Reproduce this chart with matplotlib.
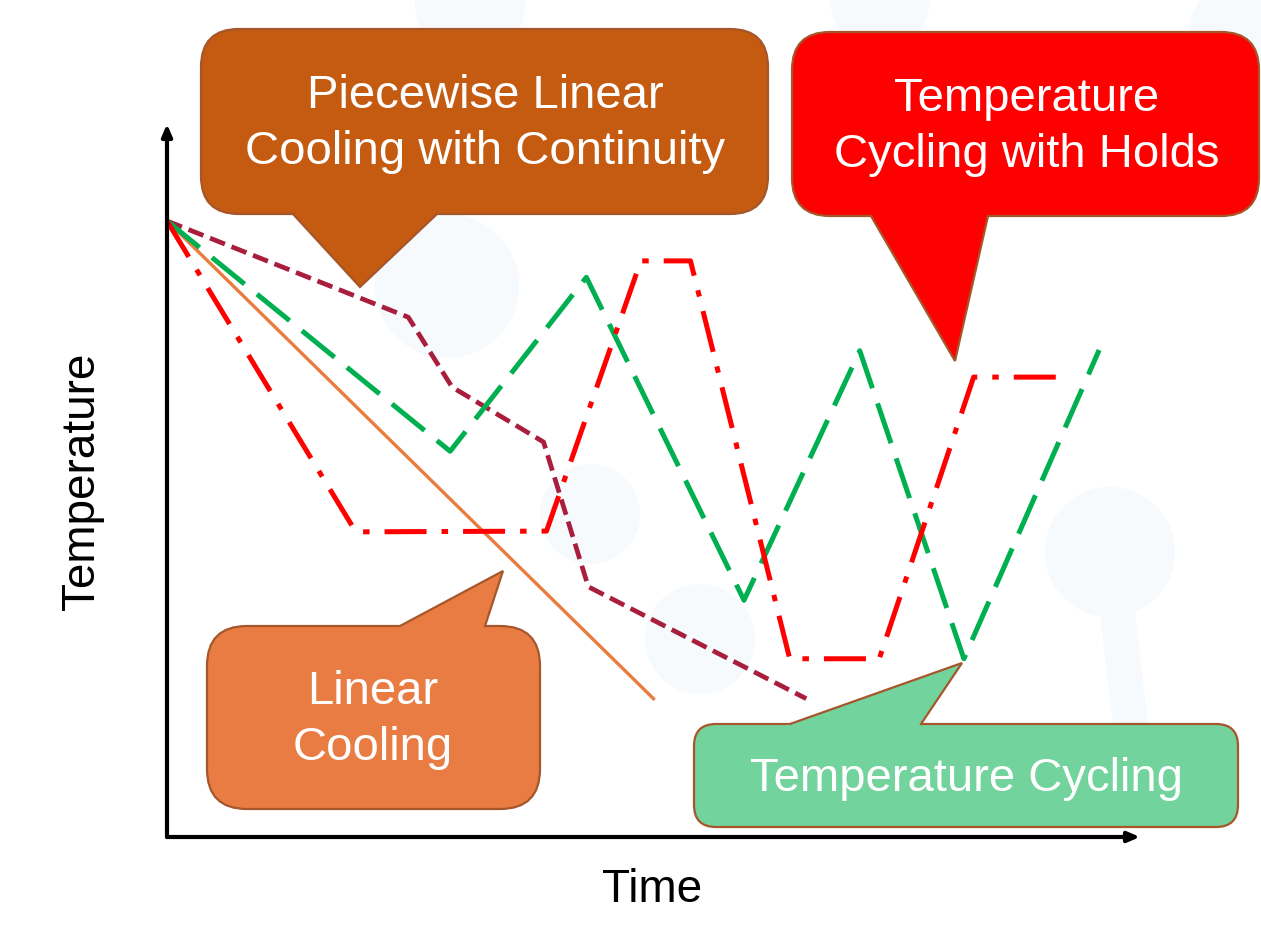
import matplotlib.pyplot as plt
import numpy as np
from matplotlib.patches import FancyBboxPatch, Polygon, Circle

plt.rcParams['font.family'] = ['Liberation Sans', 'DejaVu Sans']

# profile data (time 0..10, temperature 0..100)
linear_t = [0.0, 5.0]
linear_T = [86.4, 19.4]

piecewise_t = [0.0, 2.48, 2.93, 3.87, 4.33, 6.57]
piecewise_T = [86.4, 72.9, 63.1, 55.4, 35.1, 19.4]

cycling_t = [0.0, 2.91, 4.31, 5.93, 7.12, 8.19, 9.58]
cycling_T = [86.4, 54.1, 78.5, 33.2, 68.2, 25.0, 68.3]

holds_t = [0.0, 1.94, 3.90, 4.87, 5.38, 6.40, 7.32, 8.29, 9.16]
holds_T = [86.4, 42.8, 42.9, 80.8, 80.8, 25.0, 25.0, 64.5, 64.5]

W, H = 1261, 928
fig = plt.figure(figsize=(W / 100, H / 100), dpi=100)

# faint watermark layer (pixel coords)
wm = fig.add_axes([0, 0, 1, 1])
wm.set_xlim(0, W)
wm.set_ylim(H, 0)
wm.axis('off')
wm_col = '#F6FAFD'
for cx, cy, r in [(447, 287, 72), (590, 515, 50), (700, 640, 55),
                  (1110, 553, 65), (470, 5, 55), (880, 0, 50), (1235, 30, 45)]:
    wm.add_patch(Circle((cx, cy), r, color=wm_col, lw=0))
wm.plot([1110, 1130], [553, 720], color=wm_col, lw=25, solid_capstyle='round')

# main axes with arrows
x0, y0, x1, y1 = 167, 838, 1140, 125
ax = fig.add_axes([x0 / W, (H - y0) / H, (x1 - x0) / W, (y0 - y1) / H])
ax.set_xlim(0, 10)
ax.set_ylim(0, 100)
ax.axis('off')
ax.patch.set_alpha(0)

ax.plot(linear_t, linear_T, color='#E97C3F', lw=2.4, clip_on=False)
ax.plot(piecewise_t, piecewise_T, color='#A81E3C', lw=3.4,
        dashes=(3.4, 1.5), clip_on=False)
ax.plot(cycling_t, cycling_T, color='#00B050', lw=3.6,
        dashes=(8.4, 3.2), clip_on=False)
ax.plot(holds_t, holds_T, color='#FF0000', lw=3.6,
        dashes=(8.4, 3.0, 1.3, 3.0), clip_on=False)

arrow = dict(arrowstyle='-|>,head_length=0.7,head_width=0.3', color='black',
             lw=3.0, shrinkA=0, shrinkB=0)
ax.annotate('', xy=(0, 1), xytext=(0, 0), xycoords='axes fraction',
            arrowprops=arrow)
ax.annotate('', xy=(1, 0), xytext=(0, 0), xycoords='axes fraction',
            arrowprops=arrow)

# callouts (pixel coords)
co = fig.add_axes([0, 0, 1, 1])
co.set_xlim(0, W)
co.set_ylim(H, 0)
co.axis('off')
co.patch.set_alpha(0)

edge = '#A5572B'


def callout(box, r, tail, face, text, center):
    bx0, by0, bx1, by1 = box
    co.add_patch(FancyBboxPatch((bx0 + r, by0 + r), bx1 - bx0 - 2 * r, by1 - by0 - 2 * r,
                                boxstyle=f'round,pad={r},rounding_size={r}',
                                fc=face, ec=edge, lw=1.6, zorder=2))
    (ax_, ay_), (bx_, by_), (tx, ty) = tail
    pts = []
    for px, py in [(ax_, ay_), (bx_, by_)]:
        d = np.array([px - tx, py - ty], dtype=float)
        k = 5.0 / abs(d[1])
        pts.append((px + d[0] * k, py + d[1] * k))
    co.add_patch(Polygon([pts[0], (tx, ty), pts[1]], closed=True, fc=face, lw=0, zorder=3))
    co.plot([ax_, tx, bx_], [ay_, ty, by_], color=edge, lw=1.6, zorder=4,
            solid_joinstyle='miter')
    co.text(center[0], center[1], text, color='white', fontsize=34,
            ha='center', va='center', linespacing=1.38, zorder=5)


callout((201, 30, 768, 215), 38, ((293, 215), (437, 215), (360, 288)),
        '#C55A11', 'Piecewise Linear\nCooling with Continuity', (485, 124))
callout((792, 33, 1259, 217), 38, ((871, 217), (988, 217), (955, 362)),
        '#FF0000', 'Temperature\nCycling with Holds', (1027, 127))
callout((207, 627, 540, 810), 40, ((400, 627), (485, 627), (503, 572)),
        '#E97C43', 'Linear\nCooling', (373, 720))
callout((694, 725, 1238, 828), 22, ((790, 725), (921, 725), (962, 664)),
        '#72D39D', 'Temperature Cycling', (966, 779))

co.text(82, 481, 'Temperature', rotation=90, fontsize=33, ha='center', va='center')
co.text(652, 890, 'Time', fontsize=33, ha='center', va='center')

fig.savefig('out.png', dpi=100)
